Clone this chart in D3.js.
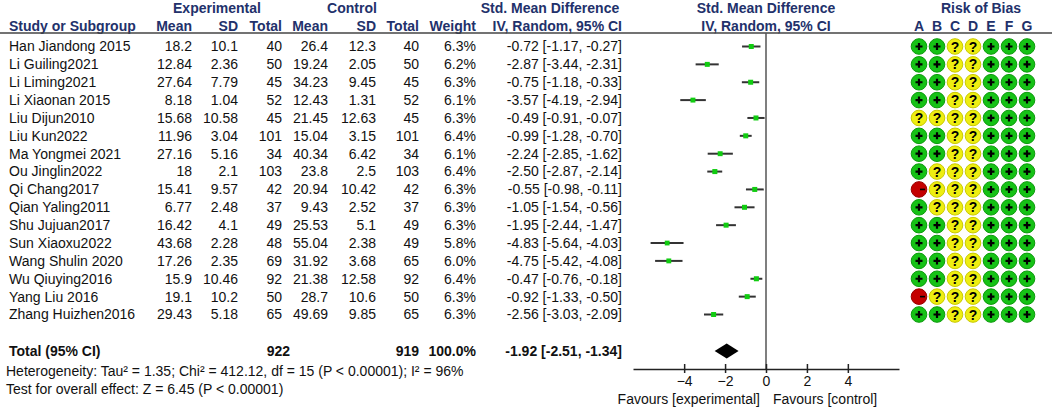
<!DOCTYPE html>
<html>
<head>
<meta charset="utf-8">
<script src="https://cdn.jsdelivr.net/npm/d3@7"></script>
<style>
  body { margin: 0; background: #fff; }
  svg { display: block; font-family: "Liberation Sans", Arial, sans-serif; }
</style>
</head>
<body>
<div id="viz"></div>
<script>
const studies = ["Han Jiandong 2015", "Li Guiling2021", "Li Liming2021", "Li Xiaonan 2015", "Liu Dijun2010",
  "Liu Kun2022", "Ma Yongmei 2021", "Ou Jinglin2022", "Qi Chang2017", "Qian Yaling2011", "Shu Jujuan2017",
  "Sun Xiaoxu2022", "Wang Shulin 2020", "Wu Qiuying2016", "Yang Liu 2016", "Zhang Huizhen2016"];
const expMean = [18.2, 12.84, 27.64, 8.18, 15.68, 11.96, 27.16, 18, 15.41, 6.77, 16.42, 43.68, 17.26, 15.9, 19.1, 29.43];
const expSD = [10.1, 2.36, 7.79, 1.04, 10.58, 3.04, 5.16, 2.1, 9.57, 2.48, 4.1, 2.28, 2.35, 10.46, 10.2, 5.18];
const expN = [40, 50, 45, 52, 45, 101, 34, 103, 42, 37, 49, 48, 69, 92, 50, 65];
const ctlMean = [26.4, 19.24, 34.23, 12.43, 21.45, 15.04, 40.34, 23.8, 20.94, 9.43, 25.53, 55.04, 31.92, 21.38, 28.7, 49.69];
const ctlSD = [12.3, 2.05, 9.45, 1.31, 12.63, 3.15, 6.42, 2.5, 10.42, 2.52, 5.1, 2.38, 3.68, 12.58, 10.6, 9.85];
const ctlN = [40, 50, 45, 52, 45, 101, 34, 103, 42, 37, 49, 49, 65, 92, 50, 65];
const weights = [6.3, 6.2, 6.3, 6.1, 6.3, 6.4, 6.1, 6.4, 6.3, 6.3, 6.3, 5.8, 6.0, 6.4, 6.3, 6.3];
const smd = [-0.72, -2.87, -0.75, -3.57, -0.49, -0.99, -2.24, -2.50, -0.55, -1.05, -1.95, -4.83, -4.75, -0.47, -0.92, -2.56];
const ciLow = [-1.17, -3.44, -1.18, -4.19, -0.91, -1.28, -2.85, -2.87, -0.98, -1.54, -2.44, -5.64, -5.42, -0.76, -1.33, -3.03];
const ciHigh = [-0.27, -2.31, -0.33, -2.94, -0.07, -0.70, -1.62, -2.14, -0.11, -0.56, -1.47, -4.03, -4.08, -0.18, -0.50, -2.09];
// risk of bias, domains A-G, one string per study
const rob = ["++??+++", "++??+++", "++??+++", "++??+++", "????+++", "++??+++", "++??+++", "+???+++",
  "-???+++", "+???+++", "++??+++", "++??+++", "++??+++", "++??+++", "-???+++", "++??+++"];
const robDomains = ["A", "B", "C", "D", "E", "F", "G"];
const total = { expN: 922, ctlN: 919, weight: 100.0, smd: -1.92, lo: -2.51, hi: -1.34 };
const axisTicks = [-4, -2, 0, 2, 4];
const axisDomain = [-6.5, 6.5];
const heterogeneity = "Heterogeneity: Tau\u00b2 = 1.35; Chi\u00b2 = 412.12, df = 15 (P < 0.00001); I\u00b2 = 96%";
const overallTest = "Test for overall effect: Z = 6.45 (P < 0.00001)";

const width = 1052, height = 410;
const headColor = "#22316b";
const fs = "14px";

let svg = d3.select("#viz").append("svg")
  .attr("width", width)
  .attr("height", height);

let xScale = d3.scaleLinear().domain(axisDomain).range([633, 899]);
let yScale = d3.scaleLinear().domain([0, studies.length - 1]).range([46.5, 314.5]);
let robX = d3.scalePoint().domain(robDomains).range([919, 1027]);

const totalY = 351, axisY = 369;

// column layout: right edges for numeric columns
const cols = [
  { key: expMean, x: 192 }, { key: expSD, x: 238 }, { key: expN, x: 282 },
  { key: ctlMean, x: 328 }, { key: ctlSD, x: 376 }, { key: ctlN, x: 419 }
];

function txt(g, x, y, s, anchor, bold, color) {
  return g.append("text")
    .attr("x", x).attr("y", y)
    .attr("dy", "0.35em")
    .attr("text-anchor", anchor || "start")
    .style("font-size", fs)
    .style("font-weight", bold ? "bold" : "normal")
    .attr("fill", color || "#111")
    .text(s);
}

/* headers */
let head = svg.append("g");
txt(head, 217, 8, "Experimental", "middle", true, headColor);
txt(head, 352, 8, "Control", "middle", true, headColor);
txt(head, 550, 8, "Std. Mean Difference", "middle", true, headColor);
txt(head, xScale(0), 8, "Std. Mean Difference", "middle", true, headColor);
txt(head, 981, 8, "Risk of Bias", "middle", true, headColor);
txt(head, 9, 26, "Study or Subgroup", "start", true, headColor);
["Mean", "SD", "Total", "Mean", "SD", "Total"].forEach((h, i) => txt(head, cols[i].x, 26, h, "end", true, headColor));
txt(head, 476, 26, "Weight", "end", true, headColor);
txt(head, 622, 26, "IV, Random, 95% CI", "end", true, headColor);
txt(head, xScale(0), 26, "IV, Random, 95% CI", "middle", true, headColor);
robDomains.forEach(d => txt(head, robX(d), 26, d, "middle", true, headColor));

svg.append("line")
  .attr("x1", 0).attr("x2", width)
  .attr("y1", 33).attr("y2", 33)
  .attr("stroke", "#444").attr("stroke-width", 1.5);

/* study rows */
let rows = svg.append("g");
studies.forEach((s, i) => {
  let y = yScale(i);
  txt(rows, 9, y, s);
  cols.forEach(c => txt(rows, c.x, y, String(c.key[i]), "end"));
  txt(rows, 476, y, weights[i].toFixed(1) + "%", "end");
  txt(rows, 622, y, `${smd[i].toFixed(2)} [${ciLow[i].toFixed(2)}, ${ciHigh[i].toFixed(2)}]`, "end");
});

/* totals */
txt(rows, 9, totalY, "Total (95% CI)", "start", true);
txt(rows, 290, totalY, total.expN, "end", true);
txt(rows, 419, totalY, total.ctlN, "end", true);
txt(rows, 476, totalY, total.weight.toFixed(1) + "%", "end", true);
txt(rows, 622, totalY, `${total.smd.toFixed(2)} [${total.lo.toFixed(2)}, ${total.hi.toFixed(2)}]`, "end", true);
txt(rows, 6, 371, heterogeneity);
txt(rows, 6, 389, overallTest);

/* forest plot */
let forest = svg.append("g");

forest.append("line")
  .attr("x1", xScale(0)).attr("x2", xScale(0))
  .attr("y1", 33).attr("y2", axisY)
  .attr("stroke", "#555").attr("stroke-width", 1.5);

forest.selectAll(".ci")
  .data(studies)
  .enter().append("line")
  .attr("x1", (d, i) => xScale(ciLow[i]))
  .attr("x2", (d, i) => xScale(ciHigh[i]))
  .attr("y1", (d, i) => yScale(i))
  .attr("y2", (d, i) => yScale(i))
  .attr("stroke", "#333")
  .attr("stroke-width", 2);

forest.selectAll(".pt")
  .data(studies)
  .enter().append("rect")
  .attr("width", (d, i) => 5 * Math.sqrt(weights[i] / 6.3))
  .attr("height", (d, i) => 5 * Math.sqrt(weights[i] / 6.3))
  .attr("x", (d, i) => xScale(smd[i]) - 2.5 * Math.sqrt(weights[i] / 6.3))
  .attr("y", (d, i) => yScale(i) - 2.5 * Math.sqrt(weights[i] / 6.3))
  .attr("fill", "#11cc11");

// pooled diamond
forest.append("path")
  .attr("d", `M${xScale(total.lo)},${totalY} L${xScale(total.smd)},${totalY - 7.5} L${xScale(total.hi)},${totalY} L${xScale(total.smd)},${totalY + 7.5} Z`)
  .attr("fill", "#000");

// axis
let axis = forest.append("g")
  .attr("transform", `translate(0,${axisY})`)
  .call(d3.axisBottom(xScale).tickValues(axisTicks).tickSize(4).tickPadding(3).tickSizeOuter(0));
axis.select(".domain").attr("stroke", "#222").attr("stroke-width", 1.5);
axis.selectAll(".tick line").attr("y1", -5).attr("stroke", "#222").attr("stroke-width", 1.5);
axis.selectAll(".tick text")
  .style("font-size", fs)
  .style("font-family", "'Liberation Sans', Arial, sans-serif")
  .attr("fill", "#111");

txt(forest, xScale(0) - 6, 399, "Favours [experimental]", "end");
txt(forest, xScale(0) + 7, 399, "Favours [control]", "start");

/* risk of bias */
const robFill = { "+": "#16c216", "?": "#eeee11", "-": "#c40000" };
const robStroke = { "+": "#0d9a0d", "?": "#c9c900", "-": "#9a0000" };
let robG = svg.append("g");
studies.forEach((s, i) => {
  let marks = rob[i].split("");
  marks.forEach((m, j) => {
    let cx = robX(robDomains[j]), cy = yScale(i);
    robG.append("circle")
      .attr("cx", cx).attr("cy", cy).attr("r", 7.8)
      .attr("fill", robFill[m])
      .attr("stroke", robStroke[m])
      .attr("stroke-width", 1);
    if (m === "+") {
      robG.append("path")
        .attr("d", `M${cx - 3.5},${cy} H${cx + 3.5} M${cx},${cy - 3.5} V${cy + 3.5}`)
        .attr("stroke", "#000").attr("stroke-width", 2.2);
    } else if (m === "-") {
      robG.append("path")
        .attr("d", `M${cx + 1},${cy} H${cx + 6}`)
        .attr("stroke", "#000").attr("stroke-width", 1.6);
    } else {
      robG.append("text")
        .attr("x", cx).attr("y", cy).attr("dy", "0.36em")
        .attr("text-anchor", "middle")
        .style("font-size", "14px").style("font-weight", "bold")
        .attr("fill", "#000")
        .text("?");
    }
  });
});
</script>
</body>
</html>
